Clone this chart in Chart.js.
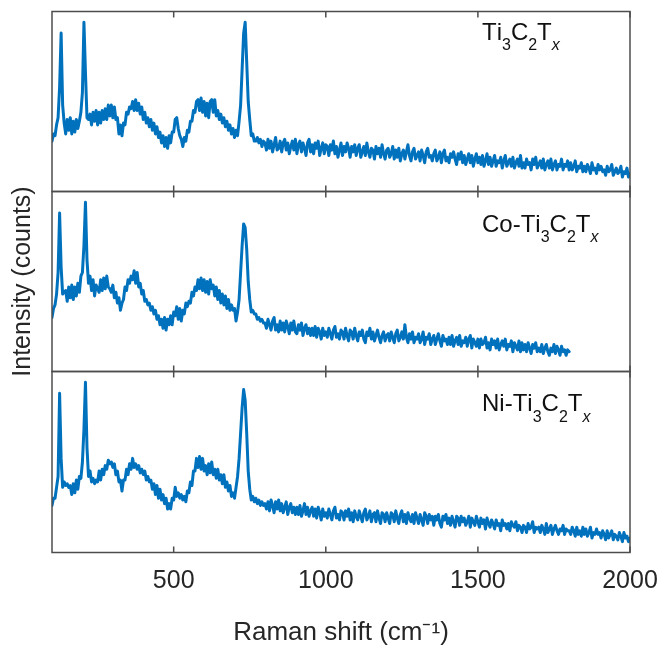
<!DOCTYPE html>
<html>
<head>
<meta charset="utf-8">
<script src="https://cdn.jsdelivr.net/npm/chart.js@4.4.0/dist/chart.umd.min.js"></script>
<style>
  html, body { margin: 0; padding: 0; background: #ffffff; }
  #wrap { position: relative; width: 659px; height: 649px; }
  #wrap canvas { position: absolute; left: 0; top: 0; }
</style>
</head>
<body>
<div id="wrap">
  <canvas id="c1" width="659" height="649"></canvas>
  <canvas id="c2" width="659" height="649"></canvas>
  <canvas id="c3" width="659" height="649"></canvas>
</div>
<script>
// ---------------- DATA ----------------
// Raman shift (cm-1)
const SHIFT = [
  100,105,110,115,120,125,130,135,140,145,150,155,160,165,170,175,180,185,190,195,
  200,205,210,215,220,225,230,235,240,245,250,255,260,265,270,275,280,285,290,295,
  300,305,310,315,320,325,330,335,340,345,350,355,360,365,370,375,380,385,390,395,
  400,405,410,415,420,425,430,435,440,445,450,455,460,465,470,475,480,485,490,495,
  500,505,510,515,520,525,530,535,540,545,550,555,560,565,570,575,580,585,590,595,
  600,605,610,615,620,625,630,635,640,645,650,655,660,665,670,675,680,685,690,695,
  700,705,710,715,720,725,730,735,740,745,750,755,760,765,770,775,780,785,790,795,
  800,805,810,815,820,825,830,835,840,845,850,855,860,865,870,875,880,885,890,895,
  900,905,910,915,920,925,930,935,940,945,950,955,960,965,970,975,980,985,990,995,
  1000,1005,1010,1015,1020,1025,1030,1035,1040,1045,1050,1055,1060,1065,1070,1075,1080,1085,1090,1095,
  1100,1105,1110,1115,1120,1125,1130,1135,1140,1145,1150,1155,1160,1165,1170,1175,1180,1185,1190,1195,
  1200,1205,1210,1215,1220,1225,1230,1235,1240,1245,1250,1255,1260,1265,1270,1275,1280,1285,1290,1295,
  1300,1305,1310,1315,1320,1325,1330,1335,1340,1345,1350,1355,1360,1365,1370,1375,1380,1385,1390,1395,
  1400,1405,1410,1415,1420,1425,1430,1435,1440,1445,1450,1455,1460,1465,1470,1475,1480,1485,1490,1495,
  1500,1505,1510,1515,1520,1525,1530,1535,1540,1545,1550,1555,1560,1565,1570,1575,1580,1585,1590,1595,
  1600,1605,1610,1615,1620,1625,1630,1635,1640,1645,1650,1655,1660,1665,1670,1675,1680,1685,1690,1695,
  1700,1705,1710,1715,1720,1725,1730,1735,1740,1745,1750,1755,1760,1765,1770,1775,1780,1785,1790,1795,
  1800,1805,1810,1815,1820,1825,1830,1835,1840,1845,1850,1855,1860,1865,1870,1875,1880,1885,1890,1895,
  1900,1905,1910,1915,1920,1925,1930,1935,1940,1945,1950,1955,1960,1965,1970,1975,1980,1985,1990,1995,
  2000
];

// Intensity (relative counts within each panel), one value per SHIFT entry
const TI3C2TX = [
  28,32,31,37,41,58,88,48,38,32,40,34,41,32,39,33,40,35,39,44,
  55,94,66,41,40,43,37,44,39,45,37,44,38,45,40,46,40,48,42,48,
  41,47,40,41,32,37,31,38,37,44,43,47,46,50,45,51,45,49,43,47,
  40,44,38,41,36,40,34,38,32,36,30,33,27,31,25,30,24,31,27,33,
  33,40,41,35,31,29,25,30,28,34,33,39,39,45,44,50,51,45,52,44,
  50,42,49,41,50,51,44,51,42,45,40,43,38,41,36,39,34,37,32,35,
  30,34,31,39,48,68,88,94,72,50,40,31,32,28,28,30,27,29,25,28,
  27,
  23,29,24,28,22,26,30,23,24,28,
  22,27,29,23,27,21,25,28,23,29,
  21,26,28,22,27,24,20,27,29,22,
  26,21,27,24,28,20,24,27,21,26,
  25,20,26,23,28,21,25,19,23,27,
  20,25,22,27,24,19,25,22,26,20,
  24,26,19,22,25,20,27,22,19,24,
  23,18,25,21,24,19,26,21,18,23,
  24,19,21,25,18,23,19,24,17,21,
  23,18,22,26,20,17,22,24,18,20,
  22,17,23,20,16,22,24,19,20,17,
  21,23,17,19,22,16,21,23,17,19,
  16,21,19,22,18,15,21,18,22,16,
  20,15,18,21,16,20,14,18,21,16,
  19,15,20,14,17,21,15,19,14,17,
  20,14,17,16,19,13,17,20,14,16,
  18,14,19,13,16,18,14,20,13,16,
  13,18,15,16,12,18,15,19,13,15,
  17,13,18,12,15,17,13,18,12,15,
  17,12,15,14,18,12,15,14,17,12,
  16,12,14,17,11,14,13,16,11,14,
  11,15,13,10,16,12,13,10,15,12,
  14,11,12,9,14,11,12,15,9,11,
  13,10,11,14,8,11,10,13,8,10
];

const CO_TI3C2TX = [
  30,35,37,43,55,88,58,43,44,45,39,47,41,48,40,47,42,49,44,53,
  55,70,94,62,49,53,45,51,42,48,46,44,51,45,52,46,53,47,46,44,
  48,41,44,38,41,34,38,40,47,45,51,49,53,51,56,49,55,47,49,43,
  45,39,40,37,38,34,36,32,34,29,31,26,29,24,30,23,29,26,31,26,
  33,31,36,29,35,28,34,32,38,36,39,38,44,42,47,45,51,46,52,45,
  51,44,50,43,51,46,48,42,47,40,45,38,43,37,42,35,40,34,37,34,
  35,28,33,40,55,70,82,80,68,50,40,33,34,32,32,29,30,28,29,27,
  27,
  24,29,26,23,28,30,23,26,22,28,
  23,27,22,28,25,21,27,23,28,22,
  21,26,23,27,20,24,26,21,24,20,
  24,20,25,19,24,22,18,24,20,22,
  19,24,21,18,23,25,19,21,18,23,
  22,18,24,20,17,23,22,18,24,20,
  17,22,20,23,18,16,22,20,24,18,
  22,17,20,23,19,16,20,22,17,20,
  21,17,22,19,16,21,23,17,19,22,
  18,26,19,16,21,18,22,16,19,18,
  21,16,18,22,15,19,18,21,15,18,
  20,15,18,21,17,14,20,17,18,15,
  19,15,20,14,17,19,15,20,14,17,
  16,19,14,18,20,13,18,16,14,18,
  13,18,15,16,19,13,16,12,18,15,
  17,13,18,12,15,17,14,18,12,15,
  14,17,11,16,14,12,17,11,16,12,
  15,11,16,13,10,15,13,16,11,13,
  11,15,10,13,15,11,9,13,11,15,
  10,14,12,9,14,11,12,9,12,11
];

const NI_TI3C2TX = [
  26,30,30,36,42,88,52,36,39,37,38,36,37,32,38,33,40,35,42,41,
  50,68,94,58,42,45,39,41,38,40,39,45,40,46,43,48,46,51,49,50,
  47,49,43,45,39,40,34,40,40,46,43,49,46,52,47,49,46,48,44,46,
  43,45,40,42,39,40,35,38,32,37,30,35,29,32,27,30,24,27,24,30,
  29,36,31,33,30,32,29,31,28,34,33,39,37,45,45,52,47,53,46,52,
  45,48,43,49,44,50,43,46,41,46,40,43,38,43,36,39,34,37,31,33,
  30,36,42,52,66,80,90,84,66,45,35,29,31,28,30,27,29,26,28,26,
  27,
  24,28,23,29,26,22,28,24,29,23,
  27,22,25,28,21,25,27,22,25,21,
  25,21,26,20,23,27,21,25,20,23,
  25,20,24,19,25,22,18,24,20,22,
  19,24,21,18,23,25,19,21,18,23,
  22,18,23,20,24,18,22,17,23,20,
  18,23,20,17,22,24,18,20,23,17,
  21,22,17,23,19,16,22,21,17,22,
  19,16,22,21,17,23,19,16,21,23,
  17,21,16,22,19,17,21,16,22,19,
  16,21,18,15,22,20,16,21,18,20,
  15,20,18,21,16,14,20,18,21,16,
  19,15,20,17,14,20,19,15,20,17,
  19,15,17,20,14,19,17,15,20,17,
  14,19,16,18,13,19,16,14,18,16,
  13,18,15,16,12,18,15,16,13,16,
  12,17,15,14,17,12,15,14,11,15,
  14,11,16,13,14,17,11,14,13,14,
  11,15,13,10,16,11,13,15,10,13,
  15,12,10,13,12,15,10,13,12,12,
  10,14,12,9,14,10,12,9,14,10,
  13,9,11,14,8,11,10,13,10,11,
  8,12,10,7,12,8,10,12,7,10,
  9,7,11,9,6,11,8,9,6,8
];

const X_TICKS = [500, 1000, 1500, 2000];
const PANEL_LABELS = ['Ti_3C_2T_x', 'Co-Ti_3C_2T_x', 'Ni-Ti_3C_2T_x'];
const X_TITLE = 'Raman shift (cm\u207B\u00B9)';
const Y_TITLE = 'Intensity (counts)';

// ---------------- STYLE ----------------
const FONT = '"Liberation Sans", Arial, Helvetica, sans-serif';
const LINE_COLOR = '#0072BD';
const AXIS_COLOR = '#4d4d4d';
const TEXT_COLOR = '#262626';
Chart.defaults.font.family = FONT;

function points(ys) {
  return ys.map((y, i) => ({ x: SHIFT[i], y: y }));
}

const framePlugin = {
  id: 'frame',
  afterDraw(chart, args, opts) {
    const { ctx, chartArea: a, scales } = chart;
    ctx.save();
    ctx.strokeStyle = AXIS_COLOR;
    ctx.lineWidth = 1.5;
    ctx.strokeRect(a.left, a.top, a.right - a.left, a.bottom - a.top);
    ctx.beginPath();
    for (const v of X_TICKS) {
      const x = scales.x.getPixelForValue(v);
      ctx.moveTo(x, a.top); ctx.lineTo(x, a.top + 6);
      ctx.moveTo(x, a.bottom); ctx.lineTo(x, a.bottom - 6);
    }
    ctx.stroke();
    // panel label with subscripts
    const s = opts.label;
    let x = a.left + opts.dx;
    const y = a.top + opts.dy;
    ctx.fillStyle = '#111111';
    ctx.textBaseline = 'alphabetic';
    ctx.textAlign = 'left';
    for (let i = 0; i < s.length; i++) {
      let ch = s[i];
      let sub = false;
      if (ch === '_') { sub = true; ch = s[++i]; }
      const italic = sub && /[a-z]/.test(ch);
      ctx.font = (italic ? 'italic ' : '') + (sub ? 16 : 24) + 'px ' + FONT;
      ctx.fillText(ch, x, sub ? y + 10.5 : y);
      x += ctx.measureText(ch).width;
    }
    ctx.restore();
  }
};

function makeChart(id, ys, padding, label, dy, isMiddle, isBottom) {
  const xScale = {
    type: 'linear', min: 100, max: 2000, display: isBottom,
    afterBuildTicks(s) { s.ticks = X_TICKS.map(v => ({ value: v })); },
    grid: { display: false, drawTicks: false },
    border: { display: false },
    ticks: {
      color: TEXT_COLOR, font: { size: 25, family: FONT }, padding: 14,
      maxRotation: 0, autoSkip: false,
      callback: (v) => String(v)
    },
    title: { display: true, text: X_TITLE, color: TEXT_COLOR, font: { size: 26, family: FONT }, padding: { top: 0, bottom: 1 } }
  };
  if (isBottom) xScale.afterFit = (s) => { s.height = 96.5; s.paddingLeft = 0; s.paddingRight = 0; };
  const yScale = {
    min: 0, max: 100, display: isMiddle,
    grid: { display: false, drawTicks: false },
    border: { display: false },
    ticks: { display: false },
    title: { display: true, text: Y_TITLE, color: TEXT_COLOR, font: { size: 25, family: FONT }, padding: { top: 8, bottom: 0 } }
  };
  if (isMiddle) yScale.afterFit = (s) => { s.width = 52; };
  return new Chart(document.getElementById(id), {
    type: 'line',
    data: {
      datasets: [{
        data: points(ys),
        borderColor: LINE_COLOR,
        borderWidth: 3,
        borderJoinStyle: 'round',
        borderCapStyle: 'round',
        pointRadius: 0,
        tension: 0,
        fill: false
      }]
    },
    options: {
      responsive: false,
      animation: false,
      devicePixelRatio: 1,
      layout: { padding: padding },
      plugins: {
        legend: { display: false },
        tooltip: { enabled: false },
        frame: { label: label, dx: 430, dy: dy }
      },
      scales: { x: xScale, y: yScale }
    },
    plugins: [framePlugin]
  });
}

makeChart('c1', TI3C2TX,    { left: 52, right: 29, top: 11.5,  bottom: 457.5 }, PANEL_LABELS[0], 28, false, false);
makeChart('c2', CO_TI3C2TX, { left: 0,  right: 29, top: 191.5, bottom: 277.5 }, PANEL_LABELS[1], 40, true,  false);
makeChart('c3', NI_TI3C2TX, { left: 52, right: 29, top: 371.5, bottom: 0 },     PANEL_LABELS[2], 39.5, false, true);
</script>
</body>
</html>
